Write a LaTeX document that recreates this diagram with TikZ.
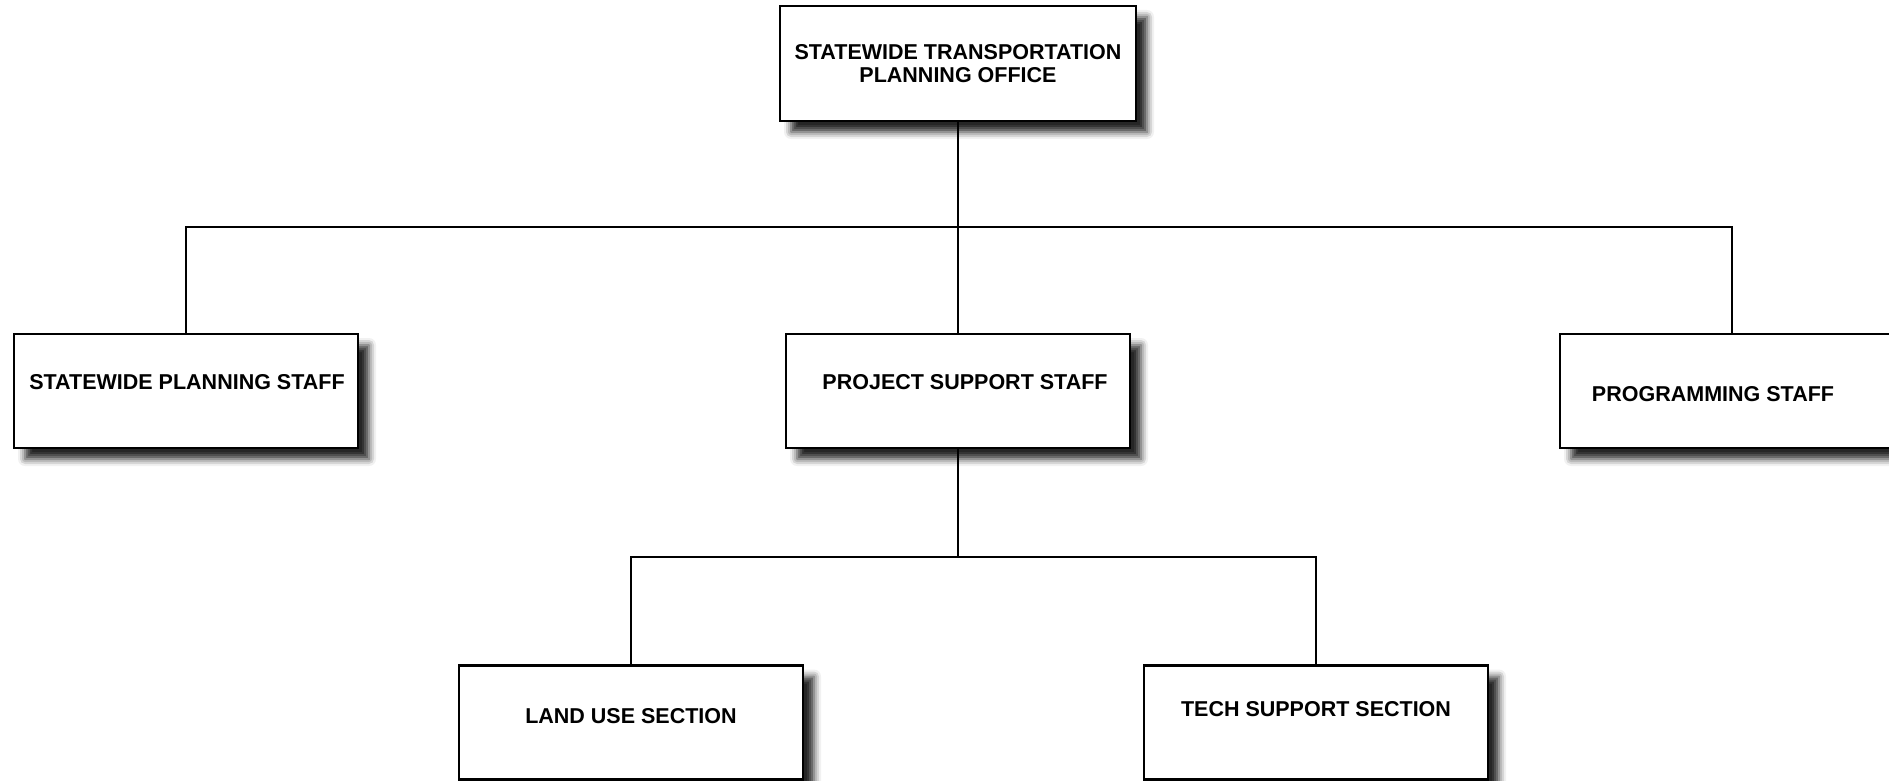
\documentclass[tikz,border=0pt]{standalone}
\usepackage{fontspec}
\setmainfont{Liberation Sans}
\usetikzlibrary{shadows.blur}
\begin{document}
\begin{tikzpicture}[x=1pt,y=-1pt,
  orgbox/.style={draw=black, line width=2.8pt, fill=white, minimum width=344pt, minimum height=114pt, inner sep=0pt,
    blur shadow={shadow xshift=11pt, shadow yshift=-11pt, shadow blur radius=7pt, shadow opacity=85}},
  lbl/.style={font=\bfseries\fontsize{21.5}{23}\selectfont, align=center, inner sep=0pt},
  conn/.style={draw=black, line width=2pt}]
\useasboundingbox (0,0) rectangle (1889,781);
\clip (0,0) rectangle (1889,781);
% boxes
\node[orgbox, minimum width=356pt, minimum height=115pt] (top) at (958,63.5) {};
\node[orgbox] (plan) at (186,391) {};
\node[orgbox] (proj) at (958,391) {};
\node[orgbox] (prog) at (1732,391) {};
\node[orgbox] (land) at (631,722.5) {};
\node[orgbox] (tech) at (1316,722.5) {};
% labels
\node[lbl] (ttop) at (958,63.5) {STATEWIDE TRANSPORTATION\\ PLANNING OFFICE};
\node[lbl] (tplan) at (187,382) {STATEWIDE PLANNING STAFF};
\node[lbl] (tproj) at (965,382) {PROJECT SUPPORT STAFF};
\node[lbl] (tprog) at (1713,394) {PROGRAMMING STAFF};
\node[lbl] (tland) at (631,716) {LAND USE SECTION};
\node[lbl] (ttech) at (1316,709) {TECH SUPPORT SECTION};
% connectors
\coordinate (bus1) at (958,227);
\coordinate (bus2) at (958,557);
\draw[conn] (top.south) -- (proj.north);
\draw[conn] (plan.north) |- (bus1) -| (prog.north);
\draw[conn] (proj.south) -- (bus2);
\draw[conn] (land.north) |- (bus2) -| (tech.north);
\end{tikzpicture}
\end{document}
